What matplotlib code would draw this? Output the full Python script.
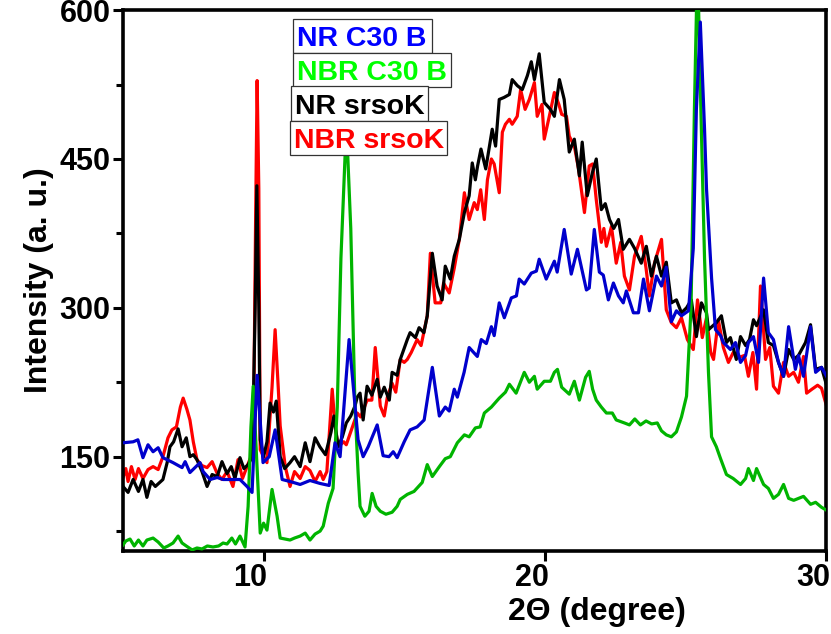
import matplotlib
matplotlib.use("Agg")
import matplotlib.pyplot as plt
import matplotlib.transforms as mtransforms
from matplotlib.patches import Rectangle
from matplotlib.ticker import MultipleLocator

plt.rcParams["font.family"] = ["Liberation Sans", "DejaVu Sans"]
plt.rcParams["font.weight"] = "bold"

# XRD patterns, 2-theta (deg) vs intensity (a.u.)
nr_c30_x = [5.00, 5.36, 5.53, 5.71, 5.89, 6.07, 6.25, 6.42, 6.78, 7.10, 7.21, 7.38, 7.74, 7.85,
            8.10, 8.35, 8.56, 8.91, 9.16, 9.41, 9.59, 9.77, 9.98, 10.20, 10.41, 10.66, 10.94,
            11.30, 11.65, 12.01, 12.33, 12.54, 12.72, 13.04, 13.36, 13.54, 13.72, 14.04, 14.25,
            14.46, 14.61, 14.75, 15.00, 15.21, 15.46, 15.71, 16.00, 16.25, 16.46, 16.60, 16.78,
            16.89, 17.13, 17.31, 17.60, 17.74, 17.92, 18.10, 18.20, 18.38, 18.56, 18.81, 18.99,
            19.09, 19.27, 19.52, 19.70, 19.80, 20.05, 20.34, 20.44, 20.69, 20.94, 21.16, 21.48,
            21.58, 21.76, 21.94, 22.08, 22.26, 22.44, 22.62, 22.79, 22.90, 23.15, 23.33, 23.51,
            23.72, 23.97, 24.15, 24.32, 24.50, 24.68, 24.86, 25.11, 25.28, 25.39, 25.53, 25.68,
            25.75, 25.93, 26.07, 26.25, 26.35, 26.46, 26.60, 26.78, 26.96, 27.14, 27.24, 27.42,
            27.60, 27.78, 27.95, 28.13, 28.31, 28.49, 28.67, 28.91, 29.02, 29.20, 29.45, 29.63,
            29.84, 30.02]
nr_c30_y = [164, 165, 167, 149, 162, 155, 159, 149, 144, 139, 145, 134, 144, 135,
            127, 129, 127, 127, 127, 120, 114, 232, 144, 150, 177, 127, 125,
            122, 126, 123, 121, 164, 150, 268, 167, 150, 160, 182, 151,
            150, 155, 149, 165, 177, 180, 187, 240, 191, 200, 196, 218,
            210, 235, 260, 251, 268, 264, 281, 272, 305, 290, 310, 312,
            329, 324, 335, 337, 349, 329, 347, 336, 379, 334, 359, 318,
            320, 379, 336, 333, 308, 325, 312, 305, 317, 295, 295, 329,
            297, 332, 322, 341, 286, 297, 292, 297, 360, 500, 588, 480,
            420, 330, 278, 272, 265, 262, 258, 265, 245, 252, 265, 271,
            245, 330, 275, 268, 245, 231, 281, 238, 252, 231, 281, 235,
            240, 231]

nbr_c30_x = [5.00, 5.10, 5.25, 5.40, 5.55, 5.71, 5.85, 6.07, 6.25, 6.45, 6.60, 6.78, 6.96, 7.10,
             7.25, 7.46, 7.63, 7.81, 8.00, 8.20, 8.40, 8.56, 8.70, 8.87, 9.00, 9.16, 9.34, 9.45,
             9.55, 9.63, 9.75, 9.88, 10.00, 10.12, 10.30, 10.48, 10.59, 10.77, 10.94, 11.10,
             11.30, 11.48, 11.65, 11.83, 12.01, 12.12, 12.30, 12.47, 12.62, 12.75, 12.90, 12.98,
             13.10, 13.25, 13.36, 13.43, 13.60, 13.75, 13.86, 14.00, 14.15, 14.35, 14.57, 14.75,
             14.86, 15.11, 15.35, 15.64, 15.82, 16.00, 16.25, 16.46, 16.64, 16.89, 17.14, 17.31,
             17.53, 17.70, 17.85, 18.10, 18.38, 18.60, 18.74, 18.98, 19.27, 19.45, 19.63, 19.73,
             19.98, 20.20, 20.34, 20.45, 20.60, 20.87, 21.05, 21.23, 21.45, 21.58, 21.70, 21.83,
             22.01, 22.19, 22.40, 22.54, 22.83, 23.01, 23.20, 23.40, 23.60, 23.80, 24.00, 24.15,
             24.32, 24.50, 24.68, 24.86, 25.04, 25.20, 25.32, 25.43, 25.55, 25.68, 25.82, 25.93,
             26.10, 26.25, 26.46, 26.70, 26.96, 27.14, 27.24, 27.42, 27.53, 27.78, 27.95, 28.13,
             28.31, 28.49, 28.67, 28.85, 29.20, 29.45, 29.63, 29.84, 30.02]
nbr_c30_y = [61, 65, 67, 60, 66, 60, 66, 68, 64, 58, 60, 63, 70, 63,
             60, 56, 58, 57, 60, 59, 60, 63, 62, 68, 62, 70, 59, 100,
             180, 221, 150, 73, 83, 76, 117, 90, 68, 67, 66, 68,
             70, 73, 66, 72, 75, 80, 103, 118, 200, 350, 455, 462,
             380, 200, 134, 100, 90, 95, 113, 100, 95, 92, 94, 100,
             107, 112, 115, 124, 142, 130, 140, 148, 150, 164, 172, 170,
             179, 180, 194, 200, 209, 215, 223, 214, 235, 225, 231, 218,
             226, 226, 235, 238, 220, 213, 226, 207, 230, 236, 218, 207,
             200, 194, 194, 187, 184, 182, 188, 182, 186, 183, 184, 176,
             172, 170, 175, 190, 211, 300, 500, 650, 500, 350, 235, 170,
             160, 148, 132, 128, 122, 128, 138, 126, 138, 122, 118, 108,
             112, 122, 108, 106, 110, 102, 104, 99, 96]

nr_srsok_x = [5.00, 5.18, 5.36, 5.55, 5.71, 5.85, 6.00, 6.15, 6.42, 6.57, 6.67, 6.80, 6.96, 7.10,
              7.25, 7.38, 7.50, 7.63, 7.81, 7.99, 8.17, 8.35, 8.52, 8.70, 8.85, 8.98, 9.16, 9.30,
              9.45, 9.60, 9.70, 9.76, 9.83, 9.88, 10.00, 10.12, 10.23, 10.35, 10.45, 10.59, 10.75,
              10.94, 11.10, 11.30, 11.48, 11.65, 11.83, 12.00, 12.20, 12.40, 12.50, 12.65, 12.80,
              12.94, 13.10, 13.25, 13.33, 13.43, 13.54, 13.68, 13.85, 14.04, 14.15, 14.29, 14.47,
              14.57, 14.75, 14.86, 15.11, 15.21, 15.40, 15.53, 15.70, 15.82, 16.00, 16.17, 16.35,
              16.46, 16.64, 16.78, 16.96, 17.14, 17.31, 17.42, 17.53, 17.61, 17.73, 17.90, 18.13,
              18.25, 18.38, 18.55, 18.74, 18.84, 19.02, 19.20, 19.38, 19.52, 19.63, 19.80, 19.98,
              20.20, 20.34, 20.52, 20.69, 20.87, 21.05, 21.23, 21.33, 21.51, 21.69, 21.83, 22.01,
              22.15, 22.30, 22.45, 22.62, 22.79, 23.01, 23.19, 23.43, 23.61, 23.79, 23.97, 24.15,
              24.32, 24.50, 24.68, 24.86, 25.04, 25.21, 25.39, 25.57, 25.75, 25.82, 26.10, 26.28,
              26.46, 26.60, 26.81, 26.96, 27.14, 27.28, 27.42, 27.53, 27.78, 27.95, 28.13, 28.31,
              28.49, 28.67, 28.85, 29.02, 29.27, 29.45, 29.63, 29.84, 30.02]
nr_srsok_y = [120, 114, 127, 115, 127, 109, 125, 120, 127, 144, 160, 165, 178, 160,
              169, 150, 152, 147, 135, 120, 132, 130, 145, 133, 140, 128, 149, 138,
              142, 150, 300, 423, 300, 167, 150, 165, 204, 195, 206, 150, 138,
              144, 150, 140, 164, 145, 169, 160, 152, 175, 191, 160, 170,
              184, 191, 201, 210, 214, 187, 221, 212, 228, 210, 220, 207,
              235, 232, 248, 268, 275, 270, 280, 275, 292, 355, 322, 308,
              342, 329, 352, 369, 396, 413, 446, 429, 443, 460, 440, 480,
              463, 510, 512, 515, 530, 524, 520, 534, 548, 530, 556, 507,
              500, 493, 530, 510, 457, 470, 433, 467, 413, 436, 450, 399,
              405, 389, 380, 389, 359, 369, 360, 345, 362, 332, 352, 332,
              346, 305, 308, 295, 300, 308, 271, 305, 295, 278, 285, 292,
              265, 270, 248, 271, 262, 268, 288, 282, 298, 265, 262, 245,
              231, 258, 248, 252, 265, 283, 238, 240, 222]

nbr_srsok_x = [5.00, 5.10, 5.18, 5.30, 5.43, 5.55, 5.71, 5.89, 6.07, 6.25, 6.42, 6.60, 6.74, 6.90,
               7.04, 7.14, 7.27, 7.38, 7.50, 7.63, 7.81, 7.99, 8.17, 8.35, 8.52, 8.70, 8.91, 9.09,
               9.25, 9.41, 9.55, 9.65, 9.72, 9.77, 9.83, 9.88, 10.00, 10.12, 10.30, 10.41, 10.52,
               10.59, 10.77, 10.94, 11.10, 11.30, 11.48, 11.65, 11.83, 12.01, 12.12, 12.25, 12.44,
               12.54, 12.65, 12.85, 12.94, 13.10, 13.33, 13.45, 13.68, 13.85, 13.97, 14.15, 14.29,
               14.40, 14.57, 14.70, 14.86, 15.00, 15.11, 15.25, 15.46, 15.60, 15.82, 15.93, 16.10,
               16.30, 16.40, 16.60, 16.78, 16.96, 17.14, 17.31, 17.49, 17.60, 17.72, 17.85, 17.96,
               18.10, 18.20, 18.38, 18.49, 18.60, 18.74, 18.84, 19.02, 19.14, 19.30, 19.45, 19.63,
               19.73, 19.90, 19.98, 20.16, 20.34, 20.50, 20.60, 20.77, 20.87, 21.05, 21.20, 21.41,
               21.58, 21.70, 21.83, 22.01, 22.10, 22.19, 22.37, 22.54, 22.70, 22.83, 23.01, 23.19,
               23.43, 23.60, 23.72, 23.90, 24.15, 24.32, 24.50, 24.68, 24.86, 25.07, 25.28, 25.43,
               25.60, 25.75, 25.90, 26.00, 26.17, 26.35, 26.53, 26.70, 26.90, 27.10, 27.24, 27.40,
               27.53, 27.67, 27.85, 28.00, 28.13, 28.31, 28.49, 28.67, 28.85, 29.02, 29.20, 29.31,
               29.50, 29.70, 29.84, 30.02]
nbr_srsok_y = [129, 138, 125, 140, 127, 138, 128, 137, 140, 137, 150, 169, 177, 180,
               200, 209, 198, 187, 165, 147, 141, 139, 145, 133, 127, 135, 120, 147,
               128, 140, 150, 200, 400, 529, 420, 157, 150, 144, 220, 278, 220,
               181, 140, 120, 135, 128, 140, 136, 125, 135, 127, 135, 218,
               181, 160, 165, 162, 175, 194, 190, 207, 207, 260, 201, 191,
               210, 224, 215, 248, 245, 248, 255, 268, 262, 292, 355, 305,
               305, 325, 315, 340, 369, 416, 389, 406, 399, 419, 389, 429,
               450, 445, 416, 477, 485, 490, 485, 493, 520, 500, 510, 527,
               493, 505, 470, 493, 517, 505, 495, 493, 473, 463, 440, 396,
               443, 445, 409, 366, 380, 362, 382, 345, 366, 332, 318, 352,
               372, 340, 312, 345, 369, 298, 285, 280, 290, 268, 258, 308,
               270, 290, 255, 248, 288, 260, 245, 255, 250, 252, 231, 255,
               218, 322, 248, 260, 221, 214, 245, 231, 235, 225, 251, 214,
               218, 222, 219, 201]

labels = ["NR C30 B", "NBR C30 B", "NR srsoK", "NBR srsoK"]
line_colors = ["#0000cc", "#00b400", "#000000", "#ff0000"]
text_colors = ["#0000ff", "#00ff00", "#000000", "#ff0000"]

fig = plt.figure(figsize=(8.31, 6.34), dpi=100)
ax = fig.add_axes([0.148, 0.131, 0.846, 0.853])

lw = 2.3
ax.plot(nbr_srsok_x, nbr_srsok_y, color=line_colors[3], lw=lw, zorder=2)
ax.plot(nr_srsok_x, nr_srsok_y, color=line_colors[2], lw=lw, zorder=3)
ax.plot(nbr_c30_x, nbr_c30_y, color=line_colors[1], lw=lw, zorder=4)
ax.plot(nr_c30_x, nr_c30_y, color=line_colors[0], lw=lw, zorder=5)

ax.set_xlim(5, 30)
ax.set_ylim(55, 600)
ax.set_xticks([10, 20, 30])
ax.set_yticks([150, 300, 450, 600])
ax.yaxis.set_minor_locator(MultipleLocator(75))
ax.tick_params(axis="both", which="major", direction="out", length=7, width=2.2,
               labelsize=22, pad=2)
ax.tick_params(axis="y", which="minor", direction="out", length=5, width=2.2)
for s in ax.spines.values():
    s.set_linewidth(2.6)

# x tick labels sit a little left of their ticks
shift = mtransforms.ScaledTranslation(-0.13, 0, fig.dpi_scale_trans)
for lab in ax.get_xticklabels():
    lab.set_transform(lab.get_transform() + shift)

ax.set_xlabel("2\u0398 (degree)", fontsize=23, fontweight="bold", labelpad=3)
ax.xaxis.set_label_coords(0.674, -0.085)
ax.set_ylabel("Intensity (a. u.)", fontsize=23, fontweight="bold", labelpad=4)

# stacked label boxes, one frame per series (axes fractions: x0, x1, y0, y1)
boxes = [(0.2418, 0.4395, 0.9205, 0.9834),
         (0.2418, 0.4666, 0.8577, 0.9205),
         (0.2390, 0.4339, 0.7948, 0.8595),
         (0.2376, 0.4609, 0.7320, 0.7948)]
for lab, col, (x0, x1, y0, y1) in zip(labels, text_colors, boxes):
    ax.add_patch(Rectangle((x0, y0), x1 - x0, y1 - y0, transform=ax.transAxes,
                           facecolor="white", edgecolor="#333333", linewidth=0.9,
                           zorder=9))
    ax.text(x0 + 0.006, (y0 + y1) / 2, lab, transform=ax.transAxes, color=col,
            fontsize=20.5, fontweight="bold", ha="left", va="center_baseline",
            zorder=10)

fig.savefig("out.png", dpi=100, facecolor="white")
